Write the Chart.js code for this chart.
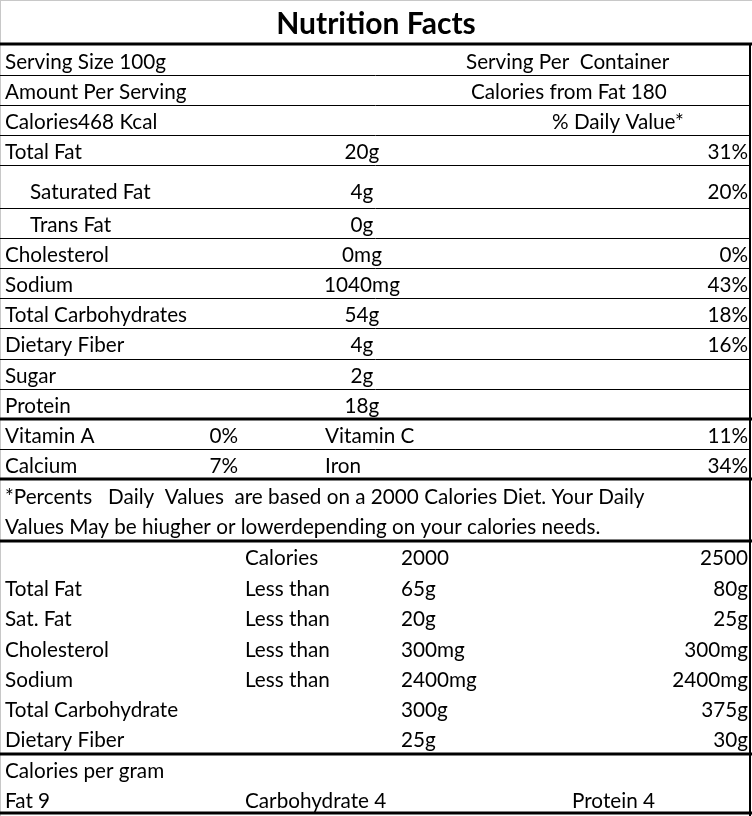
<!DOCTYPE html>
<html><head><meta charset="utf-8">
<script src="https://cdn.jsdelivr.net/npm/chart.js@4"></script>
<style>html,body{margin:0;padding:0;background:#fff}canvas{display:block}</style>
</head><body>
<canvas id="c" width="752" height="816"></canvas>
<script>
const title = "Nutrition Facts";
const headerLeft = ["Serving Size 100g", "Amount Per Serving", "Calories468 Kcal"];
const headerRight = ["Serving Per  Container", "Calories from Fat 180", "% Daily Value*"];
const nutrients = ["Total Fat", "Saturated Fat", "Trans Fat", "Cholesterol", "Sodium", "Total Carbohydrates", "Dietary Fiber", "Sugar", "Protein"];
const indented = [false, true, true, false, false, false, false, false, false];
const amounts = ["20g", "4g", "0g", "0mg", "1040mg", "54g", "4g", "2g", "18g"];
const dailyPct = ["31%", "20%", "", "0%", "43%", "18%", "16%", "", ""];
const vitLeft = ["Vitamin A", "Calcium"];
const vitLeftPct = ["0%", "7%"];
const vitRight = ["Vitamin C", "Iron"];
const vitRightPct = ["11%", "34%"];
const footnote = ["*Percents   Daily  Values  are based on a 2000 Calories Diet. Your Daily", "Values May be hiugher or lowerdepending on your calories needs."];
const refLabels = ["", "Total Fat", "Sat. Fat", "Cholesterol", "Sodium", "Total Carbohydrate", "Dietary Fiber"];
const refQual = ["Calories", "Less than", "Less than", "Less than", "Less than", "", ""];
const ref2000 = ["2000", "65g", "20g", "300mg", "2400mg", "300g", "25g"];
const ref2500 = ["2500", "80g", "25g", "300mg", "2400mg", "375g", "30g"];
const perGram = ["Fat 9", "Carbohydrate 4", "Protein 4"];

const rowY = [62,92,122,152,192,225,255,285,315,345,376,406,436,466,497,527,558,589,619,650,680,710,740,771,801];
const thinLines = [75,105,135,165,208,238,268,298,328,359,389,449];
const thickLines = [44,419,479,541,754,813];

const FONT = "Lato, 'Open Sans', sans-serif";

const tablePlugin = {
  id: 'tbl',
  afterDraw(chart) {
    const ctx = chart.ctx, X = chart.scales.x, Y = chart.scales.y;
    const px = v => X.getPixelForValue(v), py = v => Y.getPixelForValue(v);
    ctx.save();
    ctx.strokeStyle = '#c8c8c8'; ctx.lineWidth = 1;
    ctx.beginPath(); ctx.moveTo(px(0)+0.5, py(0)); ctx.lineTo(px(0)+0.5, py(816)); ctx.stroke();
    ctx.beginPath(); ctx.moveTo(px(0), py(0)+0.5); ctx.lineTo(px(752), py(0)+0.5); ctx.stroke();
    ctx.strokeStyle = '#000'; ctx.lineWidth = 1;
    thinLines.forEach(y => { ctx.beginPath(); ctx.moveTo(px(0), Math.round(py(y))+0.5); ctx.lineTo(px(751), Math.round(py(y))+0.5); ctx.stroke(); });
    ctx.lineWidth = 3;
    thickLines.forEach(y => { ctx.beginPath(); ctx.moveTo(px(0), py(y)); ctx.lineTo(px(752), py(y)); ctx.stroke(); });
    ctx.lineWidth = 2;
    ctx.beginPath(); ctx.moveTo(px(750), py(44)); ctx.lineTo(px(750), py(816)); ctx.stroke();

    const txt = (s, x, y, align, font) => {
      ctx.font = font || ("20.7px " + FONT);
      ctx.textAlign = align || 'left'; ctx.textBaseline = 'middle';
      ctx.fillStyle = '#000';
      ctx.fillText(s, px(x), py(y));
    };
    txt(title, 376, 24, 'center', "bold 30px " + FONT);
    let r = 0;
    headerLeft.forEach((s, i) => txt(s, 5, rowY[r+i]));
    txt(headerRight[0], 466, rowY[0]);
    txt(headerRight[1], 471, rowY[1]);
    txt(headerRight[2], 552, rowY[2]);
    r = 3;
    nutrients.forEach((s, i) => {
      const y = rowY[r+i];
      txt(s, indented[i] ? 30 : 5, y);
      txt(amounts[i], 362, y, 'center');
      if (dailyPct[i]) txt(dailyPct[i], 748, y, 'right');
    });
    r = 12;
    vitLeft.forEach((s, i) => {
      const y = rowY[r+i];
      txt(s, 5, y); txt(vitLeftPct[i], 238, y, 'right');
      txt(vitRight[i], 325, y); txt(vitRightPct[i], 748, y, 'right');
    });
    r = 14;
    footnote.forEach((s, i) => txt(s, 5, rowY[r+i]));
    r = 16;
    refLabels.forEach((s, i) => {
      const y = rowY[r+i];
      if (s) txt(s, 5, y);
      if (refQual[i]) txt(refQual[i], 245, y);
      txt(ref2000[i], 401, y); txt(ref2500[i], 748, y, 'right');
    });
    txt("Calories per gram", 5, rowY[23]);
    txt(perGram[0], 5, rowY[24]); txt(perGram[1], 245, rowY[24]); txt(perGram[2], 572, rowY[24]);
    ctx.restore();
  }
};

new Chart(document.getElementById('c'), {
  type: 'scatter',
  data: { datasets: [{ data: [], pointRadius: 0 }] },
  options: {
    responsive: false, animation: false,
    layout: { padding: 0 },
    plugins: { legend: { display: false }, tooltip: { enabled: false } },
    scales: {
      x: { type: 'linear', min: 0, max: 752, display: false },
      y: { type: 'linear', min: 0, max: 816, reverse: true, display: false }
    }
  },
  plugins: [tablePlugin]
});
</script>
</body></html>
